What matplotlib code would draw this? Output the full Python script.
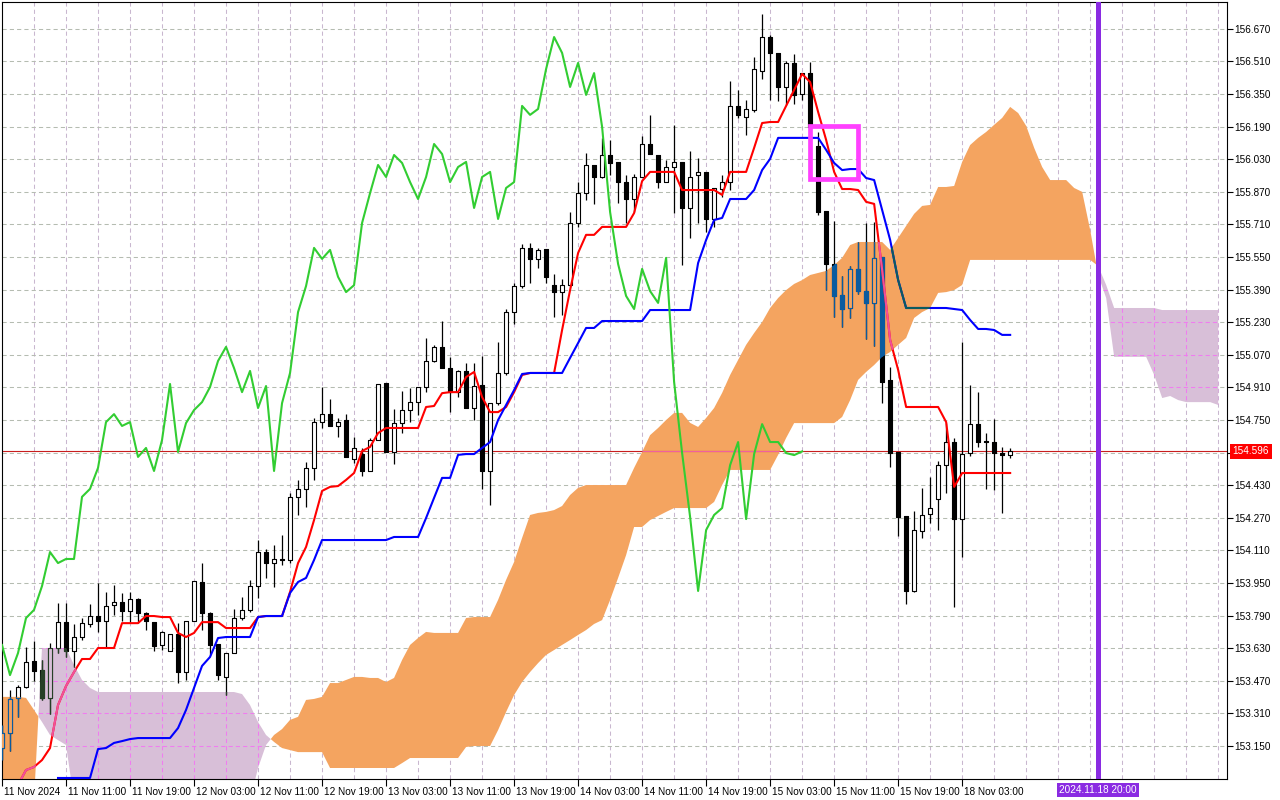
import numpy as np
import matplotlib
matplotlib.use('Agg')
import matplotlib.pyplot as plt
import matplotlib.transforms as mtrans
from matplotlib.collections import LineCollection, PatchCollection
from matplotlib.patches import Rectangle, PathPatch
from matplotlib.path import Path

plt.rcParams['font.family'] = ['Liberation Sans', 'DejaVu Sans']

# USDJPY H1, one candle per bar index (bar 0 = first visible bar)
opens = [
    153.140, 153.213, 153.386, 153.440, 153.567, 153.523, 153.386, 153.631, 153.758, 153.616,
    153.685, 153.748, 153.788, 153.763, 153.842, 153.857, 153.813, 153.872, 153.803, 153.758,
    153.646, 153.616, 153.700, 153.513, 153.763, 153.955, 153.803, 153.651, 153.489, 153.606,
    153.778, 153.818, 153.935, 154.102, 154.048, 154.063, 154.063, 154.373, 154.412, 154.515,
    154.740, 154.779, 154.721, 154.750, 154.559, 154.583, 154.500, 154.652, 154.932, 154.593,
    154.735, 154.799, 154.838, 154.912, 155.040, 155.109, 155.005, 154.887, 154.991, 154.809,
    154.922, 154.500, 154.833, 154.981, 155.280, 155.408, 155.595, 155.541, 155.590, 155.412,
    155.378, 155.412, 155.717, 155.864, 156.002, 155.943, 156.051, 156.017, 155.918, 155.835,
    155.943, 156.105, 156.051, 155.918, 155.992, 156.017, 155.791, 155.953, 155.968, 155.737,
    155.884, 155.918, 156.292, 156.238, 156.272, 156.463, 156.630, 156.552, 156.385, 156.503,
    156.350, 156.453, 156.096, 155.776, 155.516, 155.364, 155.300, 155.492, 155.383, 155.325,
    155.551, 154.947, 154.593, 154.279, 153.911, 154.205, 154.289, 154.363, 154.529, 154.642,
    154.264, 154.588, 154.730, 154.645, 154.642, 154.588, 154.578,
]
highs = [
    153.253, 153.425, 153.449, 153.636, 153.665, 153.572, 153.655, 153.852, 153.852, 153.748,
    153.778, 153.847, 153.950, 153.906, 153.940, 153.901, 153.906, 153.877, 153.808, 153.758,
    153.714, 153.700, 153.753, 153.763, 153.960, 154.048, 153.808, 153.651, 153.606, 153.822,
    153.881, 153.965, 154.161, 154.117, 154.137, 154.186, 154.392, 154.456, 154.544, 154.760,
    154.912, 154.853, 154.760, 154.779, 154.667, 154.613, 154.662, 154.927, 154.932, 154.804,
    154.892, 154.907, 154.912, 155.153, 155.118, 155.236, 155.060, 154.996, 155.030, 155.030,
    155.065, 154.833, 155.133, 155.295, 155.422, 155.614, 155.619, 155.595, 155.590, 155.467,
    155.442, 155.771, 155.918, 156.061, 156.002, 156.135, 156.125, 156.017, 155.953, 155.958,
    156.145, 156.248, 156.051, 156.027, 156.198, 156.017, 156.071, 156.037, 155.968, 155.889,
    155.953, 156.414, 156.370, 156.321, 156.532, 156.743, 156.640, 156.552, 156.512, 156.547,
    156.453, 156.507, 156.164, 155.776, 155.727, 155.457, 155.506, 155.624, 155.717, 155.722,
    155.551, 155.010, 154.593, 154.279, 154.303, 154.416, 154.470, 154.549, 154.735, 154.662,
    155.133, 154.922, 154.887, 154.686, 154.755, 154.618, 154.613,
]
lows = [
    153.081, 153.125, 153.293, 153.435, 153.469, 153.376, 153.307, 153.606, 153.587, 153.538,
    153.670, 153.734, 153.709, 153.631, 153.793, 153.763, 153.758, 153.753, 153.719, 153.616,
    153.621, 153.616, 153.459, 153.474, 153.763, 153.719, 153.597, 153.474, 153.400, 153.606,
    153.768, 153.808, 153.876, 153.975, 153.930, 154.039, 154.048, 154.284, 154.323, 154.456,
    154.711, 154.721, 154.667, 154.569, 154.539, 154.475, 154.500, 154.652, 154.593, 154.534,
    154.686, 154.740, 154.774, 154.887, 155.035, 155.005, 154.789, 154.863, 154.809, 154.750,
    154.412, 154.333, 154.823, 154.971, 155.221, 155.398, 155.422, 155.497, 155.422, 155.256,
    155.266, 155.403, 155.697, 155.830, 155.810, 155.938, 155.953, 155.815, 155.717, 155.771,
    155.943, 156.056, 155.889, 155.918, 155.766, 155.511, 155.644, 155.717, 155.673, 155.697,
    155.845, 155.879, 156.233, 156.150, 156.262, 156.424, 156.321, 156.316, 156.297, 156.302,
    156.321, 156.164, 155.757, 155.388, 155.256, 155.207, 155.251, 155.368, 155.148, 155.113,
    154.833, 154.519, 154.181, 153.847, 153.906, 154.171, 154.245, 154.210, 154.392, 153.832,
    154.078, 154.573, 154.618, 154.412, 154.407, 154.294, 154.564,
]
closes = [
    153.213, 153.381, 153.440, 153.562, 153.518, 153.386, 153.631, 153.758, 153.616, 153.685,
    153.753, 153.788, 153.763, 153.837, 153.857, 153.813, 153.872, 153.803, 153.763, 153.641,
    153.709, 153.700, 153.513, 153.763, 153.960, 153.803, 153.646, 153.498, 153.606, 153.778,
    153.818, 153.935, 154.102, 154.048, 154.068, 154.068, 154.373, 154.412, 154.515, 154.740,
    154.779, 154.721, 154.740, 154.569, 154.613, 154.500, 154.652, 154.927, 154.593, 154.735,
    154.799, 154.838, 154.912, 155.040, 155.109, 155.005, 154.887, 154.991, 154.809, 154.917,
    154.500, 154.833, 154.981, 155.280, 155.408, 155.595, 155.541, 155.585, 155.453, 155.378,
    155.412, 155.717, 155.864, 156.002, 155.943, 156.051, 156.012, 155.918, 155.835, 155.943,
    156.105, 156.056, 155.918, 155.992, 156.017, 155.791, 155.943, 155.968, 155.737, 155.889,
    155.918, 156.292, 156.248, 156.277, 156.473, 156.630, 156.552, 156.385, 156.503, 156.346,
    156.453, 156.189, 155.771, 155.516, 155.359, 155.295, 155.492, 155.383, 155.325, 155.546,
    154.937, 154.588, 154.274, 153.911, 154.210, 154.284, 154.318, 154.529, 154.642, 154.264,
    154.583, 154.730, 154.642, 154.642, 154.588, 154.578, 154.596,
]

# Ichimoku lines
tenkan_start = 2
tenkan = [
    152.959, 153.032, 153.047, 153.081, 153.140, 153.351, 153.444, 153.513, 153.577, 153.577,
    153.631, 153.631, 153.631, 153.753, 153.753, 153.753, 153.788, 153.788, 153.783, 153.783,
    153.705, 153.685, 153.705, 153.758, 153.758, 153.758, 153.729, 153.729, 153.729, 153.729,
    153.783, 153.788, 153.788, 153.788, 153.906, 154.048, 154.127, 154.259, 154.402, 154.422,
    154.426, 154.456, 154.490, 154.598, 154.618, 154.686, 154.711, 154.711, 154.711, 154.711,
    154.711, 154.814, 154.819, 154.882, 154.887, 154.887, 154.961, 154.986, 154.863, 154.789,
    154.789, 154.814, 154.887, 154.971, 154.981, 154.981, 154.981, 154.981, 155.192, 155.388,
    155.570, 155.659, 155.659, 155.698, 155.698, 155.698, 155.698, 155.766, 155.923, 155.968,
    155.968, 155.968, 155.968, 155.879, 155.879, 155.879, 155.879, 155.879, 155.855, 155.968,
    155.968, 155.968, 156.086, 156.208, 156.213, 156.213, 156.292, 156.370, 156.449, 156.409,
    156.262, 156.125, 155.968, 155.884, 155.884, 155.879, 155.821, 155.811, 155.487, 155.143,
    154.996, 154.814, 154.814, 154.814, 154.814, 154.814, 154.740, 154.422, 154.490, 154.490,
    154.490, 154.490, 154.490, 154.490, 154.490,
]
kijun_start = 7
kijun = [
    152.993, 152.993, 152.993, 152.993, 152.993, 153.135, 153.140, 153.165, 153.174, 153.184,
    153.189, 153.189, 153.189, 153.189, 153.189, 153.238, 153.327, 153.435, 153.543, 153.587,
    153.680, 153.685, 153.685, 153.685, 153.685, 153.783, 153.788, 153.788, 153.788, 153.901,
    153.955, 153.975, 154.063, 154.161, 154.161, 154.161, 154.161, 154.161, 154.161, 154.161,
    154.161, 154.161, 154.176, 154.176, 154.176, 154.176, 154.269, 154.368, 154.466, 154.466,
    154.579, 154.583, 154.583, 154.613, 154.642, 154.750, 154.824, 154.897, 154.976, 154.981,
    154.981, 154.981, 154.981, 154.981, 155.055, 155.128, 155.202, 155.202, 155.236, 155.236,
    155.236, 155.236, 155.236, 155.236, 155.290, 155.290, 155.290, 155.290, 155.290, 155.290,
    155.521, 155.634, 155.732, 155.742, 155.835, 155.835, 155.835, 155.879, 155.977, 156.032,
    156.135, 156.135, 156.135, 156.135, 156.135, 156.135, 156.076, 156.012, 155.977, 155.982,
    155.982, 155.938, 155.928, 155.781, 155.634, 155.437, 155.300, 155.300, 155.300, 155.300,
    155.300, 155.300, 155.295, 155.290, 155.241, 155.197, 155.197, 155.192, 155.168, 155.168,
]
# senkou spans, bar 0 .. 152 (26 bars beyond the last candle)
span_a = [
    153.391, 153.391, 153.391, 153.386, 153.327, 153.268, 153.204, 153.179, 153.155, 152.885,
    152.885, 152.885, 152.885, 152.885, 152.885, 152.885, 152.885, 152.885, 152.885, 152.885,
    152.885, 152.885, 152.885, 152.885, 152.885, 152.885, 152.885, 152.885, 152.885, 152.885,
    152.885, 152.885, 153.042, 153.155, 153.204, 153.233, 153.278, 153.293, 153.376, 153.381,
    153.391, 153.459, 153.459, 153.474, 153.489, 153.489, 153.484, 153.484, 153.464, 153.484,
    153.572, 153.646, 153.680, 153.710, 153.705, 153.705, 153.705, 153.705, 153.778, 153.783,
    153.783, 153.783, 153.867, 153.965, 154.053, 154.171, 154.284, 154.294, 154.299, 154.308,
    154.328, 154.382, 154.417, 154.431, 154.431, 154.431, 154.431, 154.431, 154.431, 154.515,
    154.593, 154.676, 154.711, 154.750, 154.785, 154.785, 154.736, 154.716, 154.760, 154.809,
    154.883, 154.971, 155.045, 155.119, 155.177, 155.231, 155.300, 155.349, 155.388, 155.418,
    155.437, 155.462, 155.472, 155.482, 155.511, 155.546, 155.609, 155.624, 155.624, 155.624,
    155.624, 155.585, 155.644, 155.703, 155.762, 155.801, 155.806, 155.894, 155.894, 155.899,
    156.017, 156.100, 156.135, 156.164, 156.199, 156.233, 156.287, 156.257, 156.194, 156.086,
    155.992, 155.928, 155.928, 155.928, 155.889, 155.870, 155.683, 155.462, 155.349, 155.060,
    155.060, 155.060, 155.060, 155.060, 154.971, 154.858, 154.868, 154.848, 154.838, 154.838,
    154.838, 154.838, 154.824,
]
span_b = [
    152.885, 152.885, 152.885, 152.885, 152.885, 153.631, 153.631, 153.631, 153.631, 153.548,
    153.474, 153.435, 153.415, 153.415, 153.415, 153.415, 153.415, 153.415, 153.415, 153.415,
    153.415, 153.415, 153.415, 153.415, 153.415, 153.415, 153.415, 153.415, 153.415, 153.415,
    153.405, 153.351, 153.268, 153.204, 153.170, 153.140, 153.130, 153.120, 153.120, 153.120,
    153.120, 153.042, 153.042, 153.042, 153.042, 153.042, 153.042, 153.042, 153.042, 153.042,
    153.066, 153.091, 153.091, 153.091, 153.091, 153.091, 153.091, 153.091, 153.145, 153.150,
    153.150, 153.150, 153.228, 153.317, 153.400, 153.464, 153.513, 153.557, 153.597, 153.621,
    153.646, 153.670, 153.695, 153.719, 153.749, 153.768, 153.867, 153.975, 154.087, 154.225,
    154.225, 154.259, 154.279, 154.299, 154.318, 154.318, 154.318, 154.318, 154.318, 154.348,
    154.431, 154.505, 154.505, 154.505, 154.505, 154.505, 154.505, 154.579, 154.662, 154.735,
    154.735, 154.735, 154.735, 154.735, 154.735, 154.765, 154.848, 154.947, 154.986, 155.020,
    155.060, 155.084, 155.119, 155.153, 155.251, 155.280, 155.300, 155.374, 155.378, 155.388,
    155.413, 155.536, 155.536, 155.536, 155.536, 155.536, 155.536, 155.536, 155.536, 155.536,
    155.536, 155.536, 155.536, 155.536, 155.536, 155.536, 155.536, 155.506, 155.413, 155.300,
    155.300, 155.300, 155.300, 155.300, 155.300, 155.290, 155.290, 155.290, 155.290, 155.290,
    155.290, 155.290, 155.290,
]
chikou_shift = 26

price_ticks = [153.150, 153.310, 153.470, 153.630, 153.790, 153.950, 154.110, 154.270,
               154.430, 154.590, 154.750, 154.910, 155.070, 155.230, 155.390, 155.550,
               155.710, 155.870, 156.030, 156.190, 156.350, 156.510, 156.670]
label_bars = [0, 8, 16, 24, 32, 40, 48, 56, 64, 72, 80, 88, 96, 104, 112, 120]
time_labels = ['11 Nov 2024', '11 Nov 11:00', '11 Nov 19:00', '12 Nov 03:00',
               '12 Nov 11:00', '12 Nov 19:00', '13 Nov 03:00', '13 Nov 11:00',
               '13 Nov 19:00', '14 Nov 03:00', '14 Nov 11:00', '14 Nov 19:00',
               '15 Nov 03:00', '15 Nov 11:00', '15 Nov 19:00', '18 Nov 03:00']
last_price = 154.596
marker_bar = 137
marker_label = '2024.11.18 20:00'
box_bars = (101, 107)
box_prices = (155.933, 156.194)

assert len(opens) == len(highs) == len(lows) == len(closes) == 127
assert len(tenkan) + tenkan_start == 127 and len(kijun) + kijun_start == 127
assert len(span_a) == len(span_b) == 153

ORANGE = '#f4a460'
LILAC = '#d8bfd8'

fig = plt.figure(figsize=(12.8, 8), dpi=100)
ax = fig.add_axes([2 / 1280, 21 / 800, 1225 / 1280, 777 / 800])
ax.set_xlim(0, 153.1)
ax.set_ylim(152.988, 156.802)
ax.set_facecolor('white')

# grid
ylo, yhi = ax.get_ylim()
vgrid = [[(b, ylo), (b, yhi)] for b in range(4, 153, 4)]
hgrid = [[(0, p), (153.1, p)] for p in price_ticks]


def draw_grid(vcol, hcol, z, clip=None):
    for segs, col in ((vgrid, vcol), (hgrid, hcol)):
        lc = LineCollection(segs, colors=col, linewidths=0.75,
                            linestyles=[(0, (4, 3))], zorder=z)
        ax.add_collection(lc)
        if clip is not None:
            lc.set_clip_path(clip)


draw_grid('#c9b7cf', '#b5bcb1', 0.5)

# cloud
cx = np.arange(len(span_a))
sa = np.array(span_a)
sb = np.array(span_b)
orange = ax.fill_between(cx, sa, sb, where=sa >= sb, interpolate=True,
                         color=ORANGE, lw=0, zorder=1)
lilac = ax.fill_between(cx, sa, sb, where=sa < sb, interpolate=True,
                        color=LILAC, lw=0, zorder=1)


def clip_of(coll):
    path = Path.make_compound_path(*coll.get_paths())
    return PathPatch(path, transform=ax.transData)


clip_orange = clip_of(orange)
clip_lilac = clip_of(lilac)

draw_grid('#f07cf0', '#f07cf0', 1.2, clip_lilac)

# bid line
def draw_hline(color, z, clip=None):
    ln = ax.axhline(last_price, color=color, lw=0.8, zorder=z)
    if clip is not None:
        ln.set_clip_path(clip)


draw_hline('#c81e1e', 2.5)
draw_hline('#f0609f', 2.6, clip_orange)

# candles
bars = np.arange(len(closes))


def draw_candles(edge, bull_face, bear_face, z, clip=None):
    segs = [[(i, lows[i]), (i, highs[i])] for i in bars]
    wicks = LineCollection(segs, colors=edge, linewidths=0.9, zorder=z)
    rects, faces = [], []
    for i in bars:
        o, c = opens[i], closes[i]
        rects.append(Rectangle((i - 0.28, min(o, c)), 0.56, max(abs(c - o), 0.003)))
        faces.append(bull_face if c >= o else bear_face)
    bodies = PatchCollection(rects, facecolors=faces, edgecolors=edge,
                             linewidths=0.8, zorder=z + 0.01)
    ax.add_collection(wicks)
    ax.add_collection(bodies)
    if clip is not None:
        wicks.set_clip_path(clip)
        bodies.set_clip_path(clip)


draw_candles('black', 'white', 'black', 3)
draw_candles('#0b5b9f', ORANGE, '#0b5b9f', 3.1, clip_orange)
draw_candles('#274027', LILAC, '#274027', 3.1, clip_lilac)

# ichimoku lines


def draw_line(x, y, color, z, clip=None):
    ln, = ax.plot(x, y, color=color, lw=1.5, zorder=z)
    if clip is not None:
        ln.set_clip_path(clip)


tx = np.arange(len(tenkan)) + tenkan_start
kx = np.arange(len(kijun)) + kijun_start
chx = np.arange(len(closes) - chikou_shift)
draw_line(tx, tenkan, '#ff0000', 4)
draw_line(tx, tenkan, '#f0509a', 4.05, clip_orange)
draw_line(tx, tenkan, '#f0509a', 4.05, clip_lilac)
draw_line(kx, kijun, '#0000ff', 4.2)
draw_line(kx, kijun, '#0b5b5f', 4.25, clip_orange)
draw_line(chx, closes[chikou_shift:], '#32cd32', 4.3)

# vertical marker line and highlight box
ax.axvline(marker_bar, color='#8a2be2', lw=3.6, zorder=5)
ax.add_patch(Rectangle((box_bars[0], box_prices[0]), box_bars[1] - box_bars[0],
                       box_prices[1] - box_prices[0], fill=False,
                       edgecolor='#ff40ff', lw=3.4, zorder=6))

# axes styling
for s in ax.spines.values():
    s.set_color('black')
    s.set_linewidth(0.8)
ax.yaxis.tick_right()
ax.set_yticks(price_ticks)
ax.set_yticklabels(['%.3f' % p for p in price_ticks])
ax.tick_params(axis='y', direction='out', length=4, width=0.8, pad=1.5, labelsize=7.2)
ax.set_xticks(label_bars)
ax.set_xticklabels(time_labels, ha='left')
ax.tick_params(axis='x', direction='out', length=5, width=0.8, pad=1, labelsize=7.2)
shift = mtrans.ScaledTranslation(2 / 100, 0, fig.dpi_scale_trans)
for lbl in ax.get_xticklabels():
    lbl.set_transform(lbl.get_transform() + shift)

# current price tag on the price scale
blend_y = mtrans.blended_transform_factory(ax.transAxes, ax.transData)
ax.annotate('%.3f' % last_price, xy=(1.0, last_price), xycoords=blend_y,
            xytext=(4, 0), textcoords='offset points', ha='left', va='center',
            color='white', fontsize=7.2, annotation_clip=False, zorder=10,
            bbox=dict(boxstyle='square,pad=0.25', fc='#ff0000', ec='none'))

# time tag of the marker line
blend_x = mtrans.blended_transform_factory(ax.transData, ax.transAxes)
ax.annotate(marker_label, xy=(marker_bar, 0), xycoords=blend_x,
            xytext=(0, -4.5), textcoords='offset points', ha='center', va='top',
            color='white', fontsize=7.2, annotation_clip=False, zorder=10,
            bbox=dict(boxstyle='square,pad=0.2', fc='#8a2be2', ec='none'))

fig.savefig('out.png', dpi=100, facecolor='white')
